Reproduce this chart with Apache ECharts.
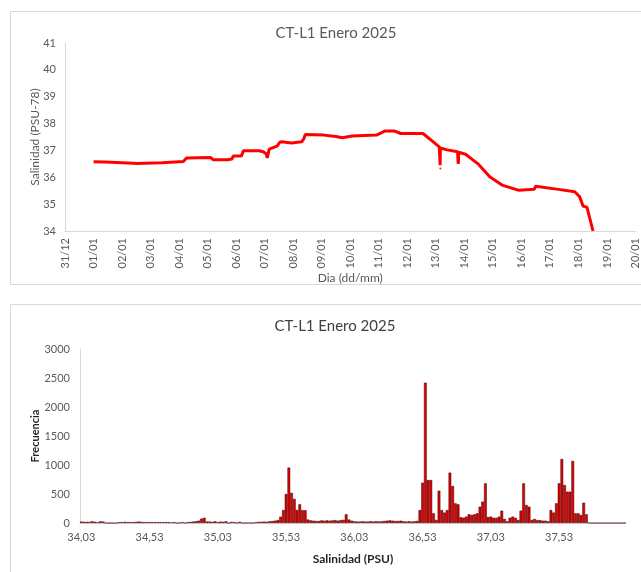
<!DOCTYPE html>
<html>
<head>
<meta charset="utf-8">
<script src="https://cdn.jsdelivr.net/npm/echarts@6/dist/echarts.min.js"></script>
<style>html,body{margin:0;padding:0;background:#fff;}#c{width:641px;height:572px;}</style>
</head>
<body>
<div id="c"></div>
<script>
// ---- Top chart: salinity time series (x = days since 31/12 00:00) ----
const dayTicks = ['31/12','01/01','02/01','03/01','04/01','05/01','06/01','07/01','08/01','09/01','10/01',
  '11/01','12/01','13/01','14/01','15/01','16/01','17/01','18/01','19/01','20/01'];
const lineDays = [1.00,1.40,1.45,2.40,2.50,3.40,3.55,4.15,4.22,4.26,5.10,5.15,5.20,5.70,5.85,5.90,6.18,6.22,6.26,
  6.80,6.95,7.05,7.09,7.12,7.16,7.45,7.52,7.60,7.94,8.30,8.38,8.42,9.08,9.50,9.72,10.07,10.92,11.10,11.20,11.56,
  11.77,12.55,12.91,13.12,13.14,13.145,13.15,13.155,13.16,13.40,13.76,13.78,13.785,13.79,13.795,13.80,14.04,14.47,
  14.89,15.32,15.89,16.45,16.50,16.55,17.30,17.87,18.04,18.16,18.30,18.51];
const lineSal = [36.58,36.57,36.54,36.52,36.51,36.54,36.55,36.59,36.62,36.72,36.74,36.72,36.65,36.65,36.68,36.79,36.79,36.85,
  36.99,36.99,36.95,36.88,36.72,36.70,37.05,37.17,37.30,37.32,37.28,37.32,37.45,37.59,37.57,37.52,37.47,37.54,37.57,37.66,
  37.72,37.72,37.63,37.63,37.32,37.13,37.11,36.60,36.45,36.70,37.09,37.02,36.95,36.94,36.50,36.45,36.60,36.93,36.86,36.51,
  36.02,35.71,35.52,35.55,35.67,35.62,35.55,35.46,35.28,34.93,34.88,34.00];
const outlierDay = [13.16];
const outlierSal = [36.33];

// ---- Bottom chart: histogram of salinity ----
const binStart = 34.03, binWidth = 0.02, binCount = 200;
const freq = [
  25,20,20,20,30,20,10,30,25,0,
  0,0,0,0,
  15,15,20,15,15,15,20,25,20,15,15,15,15,15,15,15,15,15,15,10,15,
  0,0,15,0,15,20,25,30,
  40,75,90,25,
  25,20,30,15,25,20,30,0,20,15,0,20,
  0,0,0,0,0,
  15,20,20,25,20,30,35,
  40,52,109,224,500,955,520,415,225,322,222,220,60,
  45,40,35,35,45,40,45,40,45,50,40,50,55,
  150,60,
  40,30,25,25,30,25,25,30,25,30,25,30,35,40,45,40,35,35,40,30,25,30,25,30,35,
  224,695,2419,741,741,167,52,557,224,180,224,868,638,339,322,100,92,110,150,138,150,167,281,368,684,
  104,110,90,90,110,213,70,30,90,110,90,52,213,684,310,281,52,70,50,50,40,40,30,224,180,339,684,1103,
  655,540,540,1069,167,167,138,350,150,
  0,0,0,0,0,0,0,0,0,0,0,0,0,0
];
const binLabels = [];
for (let i = 0; i < binCount; i++) binLabels.push((binStart + binWidth * i).toFixed(2).replace('.', ','));

const FONT = 'Lato';
const gray = '#595959';
const chart = echarts.init(document.getElementById('c'), null, {renderer: 'canvas'});
chart.setOption({
  animation: false,
  textStyle: {fontFamily: FONT},
  graphic: [
    {type: 'rect', shape: {x: 10.5, y: 11.5, width: 640, height: 273}, style: {fill: 'none', stroke: '#d9d9d9', lineWidth: 1}},
    {type: 'rect', shape: {x: 10.5, y: 304.5, width: 640, height: 300}, style: {fill: 'none', stroke: '#d9d9d9', lineWidth: 1}}
  ],
  title: [
    {text: 'CT-L1 Enero 2025', left: 331, top: 21, textAlign: 'center',
      textStyle: {fontFamily: FONT, fontSize: 15, fontWeight: 'normal', color: gray}},
    {text: 'CT-L1 Enero 2025', left: 330, top: 314, textAlign: 'center',
      textStyle: {fontFamily: FONT, fontSize: 15, fontWeight: 'normal', color: '#404040'}}
  ],
  grid: [
    {left: 65, right: 0, top: 43, bottom: 341, containLabel: false},
    {left: 80, right: 15, top: 349, bottom: 49, containLabel: false}
  ],
  xAxis: [
    {type: 'value', gridIndex: 0, min: 0, max: 20, interval: 1,
      axisLine: {show: true, lineStyle: {color: '#d9d9d9'}}, axisTick: {show: false}, splitLine: {show: false},
      axisLabel: {rotate: 90, margin: 7, fontSize: 11, color: gray, fontFamily: FONT, formatter: v => dayTicks[Math.round(v)] || ''},
      name: 'Dia (dd/mm)', nameLocation: 'middle', nameGap: 38,
      nameTextStyle: {fontSize: 12, color: gray, fontFamily: FONT}},
    {type: 'category', gridIndex: 1, data: binLabels, boundaryGap: true,
      axisLine: {show: true, lineStyle: {color: '#d9d9d9'}}, axisTick: {show: false},
      axisLabel: {interval: 24, margin: 9, fontSize: 11, color: gray, fontFamily: FONT},
      name: 'Salinidad (PSU)', nameLocation: 'middle', nameGap: 30,
      nameTextStyle: {fontSize: 12, fontWeight: 'bold', color: '#262626', fontFamily: FONT}}
  ],
  yAxis: [
    {type: 'value', gridIndex: 0, min: 34, max: 41, interval: 1,
      axisLine: {show: true, lineStyle: {color: '#d9d9d9'}}, axisTick: {show: false}, splitLine: {show: false},
      axisLabel: {margin: 9, fontSize: 11, color: gray, fontFamily: FONT},
      name: 'Salinidad (PSU-78)', nameLocation: 'middle', nameGap: 24, nameMoveOverlap: false,
      nameTextStyle: {fontSize: 12, color: gray, fontFamily: FONT}},
    {type: 'value', gridIndex: 1, min: 0, max: 3000, interval: 500,
      axisLine: {show: true, lineStyle: {color: '#d9d9d9'}}, axisTick: {show: false}, splitLine: {show: false},
      axisLabel: {margin: 10, fontSize: 11, color: gray, fontFamily: FONT, formatter: v => String(v)},
      name: 'Frecuencia', nameLocation: 'middle', nameGap: 39, nameMoveOverlap: false,
      nameTextStyle: {fontSize: 11, fontWeight: 'bold', color: '#262626', fontFamily: FONT}}
  ],
  series: [
    {type: 'line', xAxisIndex: 0, yAxisIndex: 0, showSymbol: false,
      data: lineDays.map((d, i) => [d, lineSal[i]]),
      lineStyle: {color: '#ff0000', width: 3}, itemStyle: {color: '#ff0000'}},
    {type: 'scatter', xAxisIndex: 0, yAxisIndex: 0, symbolSize: 2,
      data: outlierDay.map((d, i) => [d, outlierSal[i]]), itemStyle: {color: '#c00000'}},
    {type: 'bar', xAxisIndex: 1, yAxisIndex: 1, data: freq, barCategoryGap: '0%',
      itemStyle: {color: '#e00000', borderColor: '#3a0505', borderWidth: 0.5}}
  ]
});
</script>
</body>
</html>
